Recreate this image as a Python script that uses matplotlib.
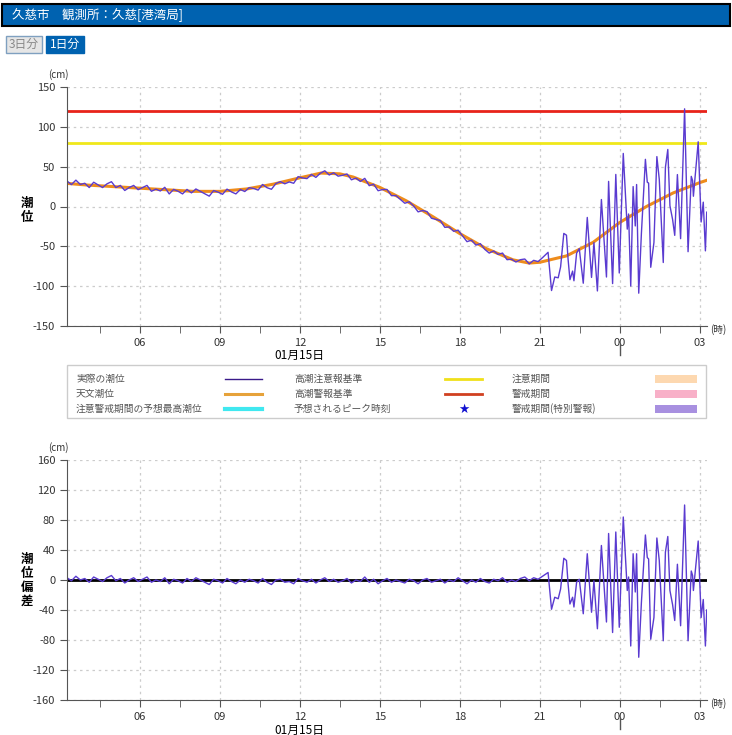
import numpy as np
import matplotlib.pyplot as plt
from matplotlib.patches import Rectangle

plt.rcParams['font.family'] = ['Noto Sans CJK JP', 'DejaVu Sans']

# astronomical tide (hour of 15th, cm)
astro_t = [3.27, 4, 5, 6, 7, 8, 9, 10, 11, 12, 12.8, 13.5, 14, 15, 16, 17, 18, 19, 20, 20.6, 21, 22, 23, 24, 25, 26, 27, 27.27]
astro_v = [29, 27, 25, 23, 21, 19, 19, 22, 28, 36, 42, 41, 37, 24, 7, -13, -34, -53, -67, -71, -70, -62, -45, -20, 0, 17, 30, 33]

# quiet part of the deviation, every 10 min from 03:16
quiet_v = [3, -1, 5, 0, 2, -3, 4, 1, -2, 3, 6, -1, 2, -4, 0, 3, -2, 1, 4, -3, 0, -2, 3, -5,
           1, -1, -4, 2, -2, 3, 0, -3, -6, 1, -1, -4, 2, -2, -5, 0, -3, 1, -1, -4, 2, -3,
           -6, 0, 1, -3, -2, -5, 2, -1, -3, 1, -4, 0, 3, -2, 1, -3, -1, 2, -4, 0, -2, 4,
           -3, 1, -5, -1, 2, -3, 0, -2, -4, 1, -1, -5, 0, 2, -3, -1, 1, -4, 0, -2, 3, -1,
           -5, 0, -3, 2, -2, -4, 1, -1, 3, -3, 0, -2, 2, 4, -1, 3, 1, 5]
quiet_t = list(3.27 + np.arange(len(quiet_v)) / 6.0)

# tsunami part of the deviation
wave_t = [21.31, 21.44, 21.56, 21.69, 21.78, 21.9, 22.0, 22.06, 22.13, 22.23, 22.28, 22.38, 22.48,
          22.63, 22.78, 22.94, 23.03, 23.16, 23.31, 23.5, 23.58, 23.73, 23.85, 23.98, 24.13, 24.28,
          24.33, 24.41, 24.5, 24.58, 24.63, 24.71, 24.81, 24.96, 25.03, 25.08, 25.16, 25.28, 25.39,
          25.48, 25.63, 25.71, 25.8, 25.88, 25.98, 26.06, 26.16, 26.28, 26.43, 26.56, 26.68, 26.73,
          26.76, 26.94, 27.05, 27.13, 27.21, 27.26]
wave_v = [10, -39, -23, -25, -12, 29, 26, -5, -32, -23, -36, -3, 1,
          -45, 35, -43, -1, -65, 46, -56, 62, -70, 64, -63, 84, -14,
          4, -88, 35, -16, 35, -103, -30, 60, 30, 28, -79, -50, 56,
          26, -81, 37, 58, -14, -33, -54, 21, -61, 100, -81, 12, 6,
          -14, 52, -50, -26, -88, -40]

dev_t = np.array(quiet_t + wave_t)
dev_v = np.array(quiet_v + wave_v, dtype=float)
actual_v = np.interp(dev_t, astro_t, astro_v) + dev_v

caution_level = 80
warning_level = 120

W, H = 732, 735
fig = plt.figure(figsize=(W / 100, H / 100), dpi=100)

def box(x0, y0, x1, y1):
    return [x0 / W, 1 - y1 / H, (x1 - x0) / W, (y1 - y0) / H]

# header bar and buttons
fig.patches.append(Rectangle((2 / W, 1 - 26 / H), 728 / W, 22 / H, transform=fig.transFigure,
                             facecolor='#0062b0', edgecolor='black', lw=1.5))
fig.text(12 / W, 1 - 15 / H, '久慈市　観測所：久慈[港湾局]', color='white', fontsize=9, va='center')
fig.patches.append(Rectangle((6 / W, 1 - 53 / H), 36 / W, 17 / H, transform=fig.transFigure,
                             facecolor='#e6e6e6', edgecolor='#7fa0c0', lw=1))
fig.text(24 / W, 1 - 44.5 / H, '3日分', color='#888888', fontsize=8.5, ha='center', va='center')
fig.patches.append(Rectangle((46 / W, 1 - 53 / H), 38 / W, 17 / H, transform=fig.transFigure,
                             facecolor='#0062b0', edgecolor='#0062b0', lw=1))
fig.text(65 / W, 1 - 44.5 / H, '1日分', color='white', fontsize=8.5, ha='center', va='center')

xmin, xmax = 3.27, 27.27
major = [6, 9, 12, 15, 18, 21, 24, 27]
major_lab = ['06', '09', '12', '15', '18', '21', '00', '03']
minor = [4.5, 7.5, 10.5, 13.5, 16.5, 19.5, 22.5, 25.5]

def style_axes(ax, yticks):
    ax.set_xlim(xmin, xmax)
    ax.set_xticks(major)
    ax.set_xticklabels(major_lab, fontsize=8, color='#333333')
    ax.set_xticks(minor, minor=True)
    ax.set_yticks(yticks)
    ax.set_yticklabels([str(v) for v in yticks], fontsize=8, color='#333333')
    ax.grid(True, which='major', ls=(0, (2, 3)), color='#cccccc', lw=0.9)
    ax.tick_params(which='both', length=5, color='#555555')
    for s in ['top', 'right']:
        ax.spines[s].set_visible(False)
    for s in ['left', 'bottom']:
        ax.spines[s].set_color('#555555')
    ax.text(1.005, -0.03, '(時)', transform=ax.transAxes, fontsize=7, color='#333333')
    ax.text(-0.03, 1.04, '(cm)', transform=ax.transAxes, fontsize=7, color='#333333')
    ax.text(12, -0.125, '01月15日', transform=ax.get_xaxis_transform(), fontsize=8.5,
            ha='center', va='center')
    ax.plot([24, 24], [-0.075, -0.12], transform=ax.get_xaxis_transform(), color='#555555',
            lw=1, clip_on=False)

# top chart
ax1 = fig.add_axes(box(67, 87, 707, 326))
ax1.set_ylim(-150, 150)
style_axes(ax1, list(range(-150, 151, 50)))
ax1.axhline(warning_level, color='#e8231a', lw=2)
ax1.axhline(caution_level, color='#f0e81a', lw=2)
ax1.plot(astro_t, astro_v, color='#ee8c1c', lw=2.2)
ax1.plot(dev_t, actual_v, color='#5a3bd0', lw=1)
fig.text(27 / W, 1 - 210 / H, '潮\n位', fontsize=9, fontweight='bold', ha='center', va='center',
         linespacing=1.1)

# legend
fig.patches.append(Rectangle((67 / W, 1 - 418 / H), 639 / W, 53 / H, transform=fig.transFigure,
                             facecolor='white', edgecolor='#cccccc', lw=1))
rows = [379, 394, 409]
legend_items = [
    ('実際の潮位', 'line', '#3a1a8a', 1), ('天文潮位', 'line', '#e6a23a', 2.2),
    ('注意警戒期間の予想最高潮位', 'line', '#40e8f0', 3),
    ('高潮注意報基準', 'line', '#f0e01a', 2), ('高潮警報基準', 'line', '#d04020', 2),
    ('予想されるピーク時刻', 'star', '#1010d0', 0),
    ('注意期間', 'patch', '#fdd8b0', 0), ('警戒期間', 'patch', '#f8b0c8', 0),
    ('警戒期間(特別警報)', 'patch', '#a890e0', 0)]
cols = [(76, 225, 262), (294, 445, 482), (512, 655, 697)]
for i, (lab, kind, col, lw) in enumerate(legend_items):
    tx, sx0, sx1 = cols[i // 3]
    y = 1 - rows[i % 3] / H
    fig.text(tx / W, y, lab, fontsize=7, color='#555555', va='center')
    if kind == 'line':
        fig.add_artist(plt.Line2D([sx0 / W, sx1 / W], [y, y], color=col, lw=lw))
    elif kind == 'star':
        fig.text((sx0 + sx1) / 2 / W, y, '★', color=col, fontsize=9, ha='center', va='center',
                 family=['DejaVu Sans'])
    else:
        fig.patches.append(Rectangle((sx0 / W, y - 4 / H), (sx1 - sx0) / W, 8 / H,
                                     transform=fig.transFigure, facecolor=col, edgecolor='none'))

# bottom chart
ax2 = fig.add_axes(box(67, 460, 707, 700))
ax2.set_ylim(-160, 160)
style_axes(ax2, list(range(-160, 161, 40)))
ax2.axhline(0, color='black', lw=2)
ax2.plot(dev_t, dev_v, color='#5a3bd0', lw=1)
fig.text(27 / W, 1 - 580 / H, '潮\n位\n偏\n差', fontsize=9, fontweight='bold', ha='center',
         va='center', linespacing=1.1)

fig.savefig('out.png', dpi=100)
